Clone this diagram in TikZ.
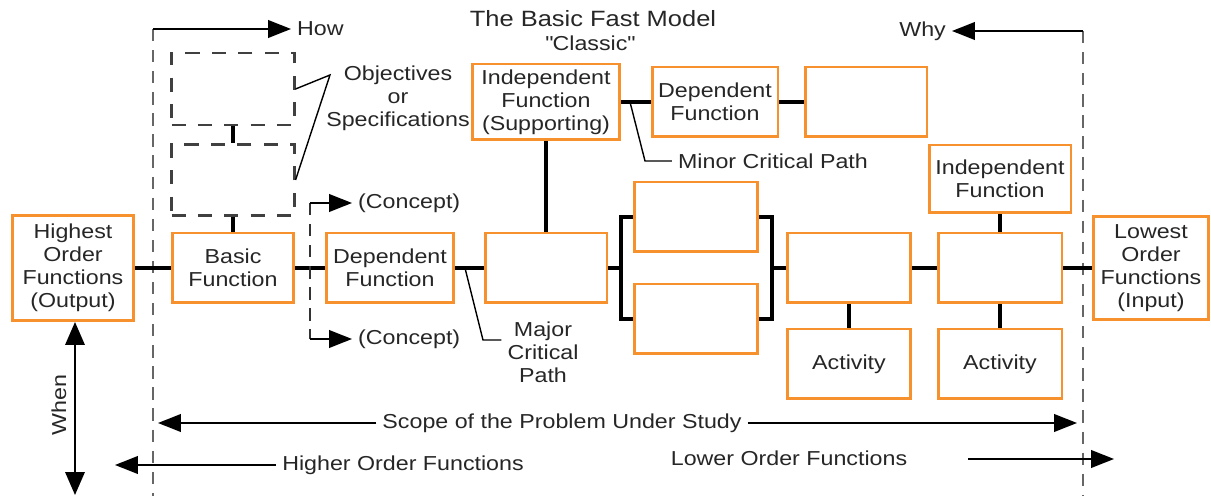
\documentclass[tikz,border=0pt]{standalone}
\usepackage{fontspec}
\setmainfont[FakeStretch=1.15]{Liberation Sans}
\usepackage{xcolor}
\usepackage{tikz}
\usetikzlibrary{arrows.meta,positioning}
\definecolor{fastorange}{RGB}{247,145,45}

\begin{document}
\begin{tikzpicture}[
			x=0.02cm, y=-0.02cm,
			font=\fontsize{11.5}{13}\selectfont,
			text=black!85,
			box/.style={rectangle, draw=fastorange, line width=1.7pt, minimum width=2.44cm, minimum height=1.4cm, align=center, inner sep=1pt},
			objbox/.style={rectangle, draw=black!75, dash pattern=on 8pt off 7pt, line width=1.2pt, minimum width=2.46cm, minimum height=1.44cm},
			link/.style={line width=2.2pt},
			lead/.style={line width=0.8pt},
			arr/.style={-{Triangle[length=13pt,width=10pt]}, line width=1.1pt},
			longdash/.style={dash pattern=on 7pt off 5pt, line width=1.2pt, draw=black!60},
			label/.style={align=center}
			]
			\useasboundingbox (0,0) rectangle (1211,496);
			
			% Title
			\node[font=\fontsize{12.6}{15}\selectfont] (title) at (593,19) {The Basic Fast Model};
			\node (classic) at (590,43) {\textquotedbl Classic\textquotedbl};
			
			% How / Why limits of the scope
			\coordinate (howtop) at (153,29);
			\coordinate (howbot) at (153,496);
			\coordinate (whytop) at (1083,31);
			\coordinate (whybot) at (1083,496);
			\draw[longdash] (howtop) -- (howbot);
			\draw[longdash] (whytop) -- (whybot);
			\node[anchor=west] (how) at (291,29) {How};
			\node[anchor=east] (why) at (952,31) {Why};
			\draw[arr] (howtop) -- (how);
			\draw[arr] (whytop) -- (why);
			
			% Objectives or specifications
			\node[objbox] (obj1) at (233,89) {};
			\node[objbox, minimum height=1.42cm] (obj2) at (233,180) {};
			\node[label] (objtext) at (398,98) {Objectives\\or\\Specifications};
			\coordinate (objtip) at (330,75);
			\draw[lead] (obj1.east) -- (objtip) -- (obj2.east);
			
			% Major critical path
			\node[box, minimum height=2.12cm] (hof) at (73,268) {Highest\\Order\\Functions\\(Output)};
			\node[box] (basic) at (233,268) {Basic\\Function};
			\node[box, minimum width=2.54cm] (dep) at (390,268) {Dependent\\Function};
			\node[box] (crit) at (546,268) {};
			\node[box, minimum width=2.46cm] (parA) at (696,217) {};
			\node[box, minimum width=2.46cm] (parB) at (696,319) {};
			\node[box, minimum width=2.46cm] (join) at (849,268) {};
			\node[box, minimum width=2.48cm] (last) at (1000,268) {};
			\node[box, minimum width=2.3cm, minimum height=2.08cm] (lof) at (1151,268) {Lowest\\Order\\Functions\\(Input)};
			
			% Minor critical path
			\node[box, minimum width=2.96cm, minimum height=1.52cm] (indsup) at (546,102) {Independent\\Function\\(Supporting)};
			\node[box, minimum width=2.52cm] (depsup) at (715,102) {Dependent\\Function};
			\node[box] (minor) at (866,102) {};
			
			% Independent function and activities
			\node[box, minimum width=2.84cm, minimum height=1.36cm] (indep) at (1000,179) {Independent\\Function};
			\node[box, minimum width=2.46cm] (act1) at (849,364) {Activity};
			\node[box, minimum width=2.48cm] (act2) at (1000,364) {Activity};
			
			% Connections
			\draw[link] (obj1) -- (obj2);
			\draw[link] (obj2) -- (basic);
			\draw[link] (hof) -- (basic);
			\draw[link] (basic) -- (dep);
			\draw[link] (dep) -- (crit);
			\draw[link] (indsup) -- (crit);
			\draw[link] (indsup) -- (depsup);
			\draw[link] (depsup) -- (minor);
			\coordinate (brl) at (621,268);
			\coordinate (brr) at (772,268);
			\draw[link] (crit) -- (brl);
			\draw[link] (parA.west) -| (brl) |- (parB.west);
			\draw[link] (parA.east) -| (brr) |- (parB.east);
			\draw[link] (brr) -- (join);
			\draw[link] (join) -- (last);
			\draw[link] (last) -- (lof);
			\draw[link] (indep) -- (last);
			\draw[link] (join) -- (act1);
			\draw[link] (last) -- (act2);
			
			% Concepts
			\coordinate (cup) at (310,203);
			\coordinate (cdown) at (310,339);
			\draw[longdash, draw=black!80] (cup) -- (cdown);
			\node[anchor=west] (con1) at (352,203) {(Concept)};
			\node[anchor=west] (con2) at (352,339) {(Concept)};
			\draw[arr] (cup) -- (con1);
			\draw[arr] (cdown) -- (con2);
			
			% Path labels
			\node[label] (major) at (543,352) {Major\\Critical\\Path};
			\coordinate (majtap) at (465,268);
			\coordinate (majbend) at (483,340);
			\draw[lead] (majtap) -- (majbend) -- (majbend -| major.west);
			\node (minortxt) at (773,161) {Minor Critical Path};
			\coordinate (mintap) at (630,102);
			\coordinate (minbend) at (645,161);
			\draw[lead] (mintap) -- (minbend) -- (minortxt);
			
			% When
			\coordinate (whenA) at (75,322);
			\coordinate (whenB) at (75,495);
			\draw[{Triangle[length=13pt,width=11pt]}-{Triangle[length=13pt,width=11pt]}, line width=1.1pt] (whenA) -- (whenB);
			\node[rotate=90] (when) at (59,405) {When};
			
			% Scope and order of functions
			\node (scope) at (562,423) {Scope of the Problem Under Study};
			\coordinate (scopeL) at (158,423);
			\coordinate (scopeR) at (1077,423);
			\draw[arr] (scope) -- (scopeL);
			\draw[arr] (scope) -- (scopeR);
			\node (higher) at (403,465) {Higher Order Functions};
			\coordinate (higherL) at (115,465);
			\draw[arr] (higher) -- (higherL);
			\node (lower) at (789,458) {Lower Order Functions};
			\coordinate (lowerA) at (968,459);
			\coordinate (lowerB) at (1114,459);
			\draw[arr] (lowerA) -- (lowerB);
			
		\end{tikzpicture}
\end{document}
